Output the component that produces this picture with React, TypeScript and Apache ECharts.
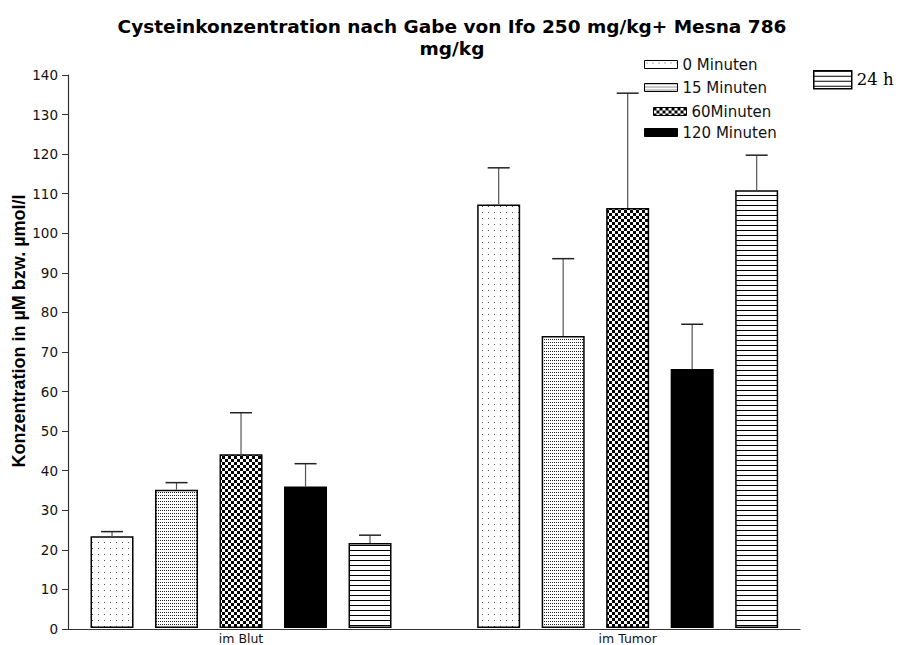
import React, { useEffect, useRef } from "react";
import * as echarts from "echarts";

// Groups on the x axis
const categories = ["im Blut", "im Tumor"];

// Sampling times (series)
const seriesNames = ["0 Minuten", "15 Minuten", "60Minuten", "120 Minuten", "24 h"];

// Mean cysteine concentration (µM) per time point: [im Blut, im Tumor]
const mean0 = [23.2, 107.2];
const mean15 = [35.0, 73.9];
const mean60 = [44.0, 106.3];
const mean120 = [35.8, 65.6];
const mean24h = [21.5, 110.8];

// Standard deviation (upper error bar) per time point
const sd0 = [1.2, 9.3];
const sd15 = [1.8, 19.6];
const sd60 = [10.5, 29.1];
const sd120 = [5.8, 11.3];
const sd24h = [2.0, 8.9];

const yTicks = { min: 0, max: 140, interval: 10 };

const means = [mean0, mean15, mean60, mean120, mean24h];
const sds = [sd0, sd15, sd60, sd120, sd24h];

const BAR_WIDTH = 43;
const BAR_GAP = 0.5;

type Painter = (ctx: CanvasRenderingContext2D) => void;

function tile(w: number, h: number, paint: Painter) {
  const c = document.createElement("canvas");
  c.width = w;
  c.height = h;
  const ctx = c.getContext("2d") as CanvasRenderingContext2D;
  ctx.fillStyle = "#ffffff";
  ctx.fillRect(0, 0, w, h);
  paint(ctx);
  return { image: c, repeat: "repeat", imageWidth: w, imageHeight: h };
}

function fills(): any[] {
  const sparseDots = tile(6, 6, (ctx) => {
    ctx.fillStyle = "#555";
    ctx.fillRect(2, 2, 1, 1);
  });
  const denseDots = tile(2, 3, (ctx) => {
    ctx.fillStyle = "#222";
    ctx.fillRect(0, 0, 1, 1);
  });
  const checker = tile(6, 6, (ctx) => {
    ctx.fillStyle = "#000";
    ctx.fillRect(0, 0, 3, 3);
    ctx.fillRect(3, 3, 3, 3);
  });
  const stripes = tile(4, 5, (ctx) => {
    ctx.fillStyle = "#000";
    ctx.fillRect(0, 0, 4, 1);
  });
  return [sparseDots, denseDots, checker, "#000000", stripes];
}

export default function App() {
  const ref = useRef<HTMLDivElement>(null);

  useEffect(() => {
    if (!ref.current) return;
    const chart = echarts.init(ref.current, null, { renderer: "svg" });
    const patterns = fills();
    const pitch = BAR_WIDTH * (1 + BAR_GAP);

    const barSeries = seriesNames.map((name, i) => ({
      name,
      type: "bar",
      xAxisIndex: 1,
      yAxisIndex: 1,
      barWidth: BAR_WIDTH,
      barGap: `${BAR_GAP * 100}%`,
      data: means[i],
      itemStyle: { color: patterns[i], borderColor: "#000", borderWidth: 1.5 },
      z: 2,
    }));

    const errorSeries = seriesNames.map((_, i) => ({
      type: "custom",
      xAxisIndex: 1,
      yAxisIndex: 1,
      z: 3,
      data: categories.map((_c, k) => [k, means[i][k], sds[i][k]]),
      renderItem: (_params: any, api: any) => {
        const k = api.value(0);
        const m = api.value(1);
        const s = api.value(2);
        const base = api.coord([k, m]);
        const top = api.coord([k, m + s]);
        const x = base[0] + (i - 2) * pitch;
        return {
          type: "group",
          children: [
            {
              type: "line",
              shape: { x1: x, y1: base[1], x2: x, y2: top[1] },
              style: { stroke: "#555", lineWidth: 1.2 },
            },
            {
              type: "line",
              shape: { x1: x - 11, y1: top[1], x2: x + 11, y2: top[1] },
              style: { stroke: "#222", lineWidth: 1.5 },
            },
          ],
        };
      },
    }));

    const legendText = { fontFamily: "DejaVu Sans", fontSize: 15, color: "#111" };
    const legendBase = {
      icon: "rect",
      padding: 0,
      selectedMode: false,
      itemWidth: 33,
      itemHeight: 8,
      itemStyle: { borderColor: "#000", borderWidth: 1 },
      textStyle: legendText,
    };

    chart.setOption({
      animation: false,
      backgroundColor: "#ffffff",
      title: {
        text: "Cysteinkonzentration nach Gabe von Ifo 250 mg/kg+ Mesna 786\nmg/kg",
        left: "center",
        top: 10,
        textStyle: {
          fontFamily: "DejaVu Sans",
          fontWeight: "bold",
          fontSize: 18.5,
          lineHeight: 22,
          color: "#000",
          align: "center",
        },
      },
      legend: [
        { ...legendBase, data: [seriesNames[0]], left: 644, top: 57 },
        { ...legendBase, data: [seriesNames[1]], left: 644, top: 80 },
        { ...legendBase, data: [seriesNames[2]], left: 653, top: 104 },
        { ...legendBase, data: [seriesNames[3]], left: 644, top: 125 },
        {
          ...legendBase,
          data: [seriesNames[4]],
          left: 813,
          top: 70,
          itemWidth: 38,
          itemHeight: 18,
          itemStyle: { borderColor: "#000", borderWidth: 1.5 },
          textStyle: { fontFamily: "DejaVu Serif", fontSize: 16.5, color: "#000" },
        },
      ],
      grid: [
        { left: 68, right: 104, top: 75, bottom: 16 },
        { left: 47.7, right: 83, top: 75, bottom: 16 },
      ],
      xAxis: [
        {
          type: "value",
          gridIndex: 0,
          min: 0,
          max: 1,
          axisLine: { show: true, lineStyle: { color: "#333", width: 1.2 } },
          axisTick: { show: false },
          axisLabel: { show: false },
          splitLine: { show: false },
        },
        {
          type: "category",
          gridIndex: 1,
          data: categories,
          axisLine: { show: false },
          axisTick: { show: false },
          axisLabel: {
            margin: 4,
            fontFamily: "DejaVu Sans",
            fontSize: 12.5,
            color: "#111",
          },
        },
      ],
      yAxis: [
        {
          type: "value",
          gridIndex: 0,
          min: yTicks.min,
          max: yTicks.max,
          interval: yTicks.interval,
          axisLine: { show: true, lineStyle: { color: "#333", width: 1.2 } },
          axisTick: { show: true, length: 6, lineStyle: { color: "#333" } },
          axisLabel: {
            margin: 10,
            fontFamily: "DejaVu Sans",
            fontSize: 13.5,
            color: "#111",
          },
          splitLine: { show: false },
        },
        {
          type: "value",
          gridIndex: 1,
          min: yTicks.min,
          max: yTicks.max,
          interval: yTicks.interval,
          show: false,
          splitLine: { show: false },
        },
      ],
      graphic: [
        {
          type: "text",
          x: 19,
          y: 331,
          rotation: Math.PI / 2,
          style: {
            text: "Konzentration in µM bzw. µmol/l",
            fontFamily: "Liberation Sans",
            fontWeight: "bold",
            fontSize: 18,
            fill: "#000",
            align: "center",
            verticalAlign: "middle",
          },
        },
      ],
      series: [...barSeries, ...errorSeries],
    });

    return () => chart.dispose();
  }, []);

  return (
    <div
      ref={ref}
      style={{ position: "fixed", left: 0, top: 0, width: 904, height: 645, background: "#fff" }}
    />
  );
}
